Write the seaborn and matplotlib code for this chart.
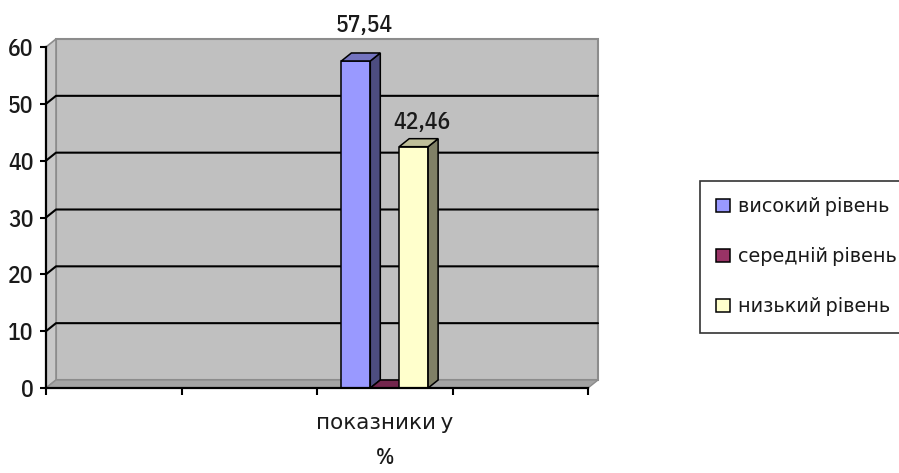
import matplotlib
matplotlib.use("Agg")
import matplotlib.pyplot as plt
import matplotlib.colors as mcolors
from matplotlib.patches import Polygon, Patch, Rectangle
from matplotlib.lines import Line2D
from matplotlib.transforms import IdentityTransform
import pandas as pd
import seaborn as sns

# --- data -------------------------------------------------------------
category = ["показники у\n%"]
levels = ["високий рівень", "середній рівень", "низький рівень"]
values = [57.54, 0.0, 42.46]
colors = ["#9999FF", "#993366", "#FFFFCC"]
y_ticks = [0, 10, 20, 30, 40, 50, 60]

df = pd.DataFrame({
    "category": category * len(levels),
    "level": levels,
    "value": values,
})

sns.set_theme(style="white")
plt.rcParams["font.family"] = ["IBM Plex Sans Condensed", "DejaVu Sans"]
plt.rcParams["font.weight"] = 500
TXT = "#1a1a1a"
FS = 17

W, H = 899, 473
fig = plt.figure(figsize=(W / 100, H / 100), dpi=100)
fig.patch.set_facecolor("white")
ax = fig.add_axes([46 / W, 1 - 388 / H, 542 / W, 341 / H])
ax.patch.set_alpha(0)

sns.barplot(data=df, x="category", y="value", hue="level", hue_order=levels,
            palette=colors, saturation=1, width=0.64, edgecolor="black",
            linewidth=1.1, legend=False, ax=ax)
bars = sorted([p for p in ax.patches if isinstance(p, Rectangle)],
              key=lambda p: p.get_x())

# one category sits in the third of four slots
ax.set_xlim(-2.5, 1.5)
ax.set_ylim(y_ticks[0], y_ticks[-1])
ax.set_xlabel("")
ax.set_ylabel("")

# depth of the 3-D effect in pixels
DX, DY = 10, 8
T = ax.transData.transform
ident = IdentityTransform()


def shade(c, f):
    r, g, b = mcolors.to_rgb(c)
    return (r * f, g * f, b * f)


def poly(pts, fc, ec, lw, z):
    p = Polygon(pts, closed=True, transform=ident, facecolor=fc,
                edgecolor=ec, linewidth=lw, zorder=z, clip_on=False)
    ax.add_artist(p)
    return p


# --- walls and floor ---------------------------------------------------
xa, xb = ax.get_xlim()
ya, yb = ax.get_ylim()
L = T((xa, ya)); R = T((xb, ya)); TL = T((xa, yb))
poly([(L[0] + DX, L[1] + DY), (R[0] + DX, R[1] + DY),
      (R[0] + DX, TL[1] + DY), (L[0] + DX, TL[1] + DY)],
     "#C0C0C0", "#8c8c8c", 1.5, 0.5)
poly([L, TL, (TL[0] + DX, TL[1] + DY), (L[0] + DX, L[1] + DY)],
     "#C8C8C8", "#8c8c8c", 1.2, 0.6)
poly([L, R, (R[0] + DX, R[1] + DY), (L[0] + DX, L[1] + DY)],
     "#A3A3A3", "#8c8c8c", 1.0, 0.6)

# gridlines on the back wall with their diagonal connectors
for v in y_ticks[1:-1]:
    Y = T((xa, v))[1]
    ln = Line2D([L[0], L[0] + DX, R[0] + DX], [Y, Y + DY, Y + DY],
                transform=ident, color="black", linewidth=1.5, zorder=0.8,
                clip_on=False)
    ax.add_artist(ln)

# --- 3-D bars ------------------------------------------------------------
for i, (p, c) in enumerate(zip(bars, colors)):
    z = 3 + i
    p.set_zorder(z)
    x0 = p.get_x(); x1 = x0 + p.get_width(); h = p.get_height()
    X0, Y0 = T((x0, 0)); X1, Y1 = T((x1, h))
    poly([(X1, Y0), (X1, Y1), (X1 + DX, Y1 + DY), (X1 + DX, Y0 + DY)],
         shade(c, 0.5), "black", 1.1, z + 0.1)
    poly([(X0, Y1), (X1, Y1), (X1 + DX, Y1 + DY), (X0 + DX, Y1 + DY)],
         shade(c, 0.75), "black", 1.1, z + 0.2)
    if h > 0:
        ax.annotate(f"{h:.2f}".replace(".", ","), xy=((x0 + x1) / 2, h),
                    xytext=(6, 9 if h < 50 else 17), textcoords="offset points",
                    ha="center", va="bottom", fontsize=FS, color=TXT,
                    annotation_clip=False, zorder=10)

# --- axes ------------------------------------------------------------------
for s in ("top", "right"):
    ax.spines[s].set_visible(False)
for s in ("left", "bottom"):
    ax.spines[s].set_color("black")
    ax.spines[s].set_linewidth(1.6)
    ax.spines[s].set_zorder(9)

ax.set_yticks(y_ticks)
ax.set_yticklabels([str(v) for v in y_ticks])
ax.tick_params(axis="y", direction="out", length=4, width=1.5, color="black",
               pad=5, labelsize=FS, labelcolor=TXT, left=True)
ax.set_xticks([0])
ax.set_xticklabels(category, linespacing=1.8)
ax.set_xticks([xa + k for k in range(int(xb - xa) + 1)], minor=True)
ax.tick_params(axis="x", which="major", length=0, pad=17, labelsize=15.5,
               labelcolor=TXT)
ax.tick_params(axis="x", which="minor", direction="out", length=5, width=1.5,
               color="black", bottom=True)
ax.grid(False)

# --- legend ----------------------------------------------------------------
LFS = 13.9
handles = [Patch(facecolor=c, edgecolor="black", linewidth=1.1) for c in colors]
leg = fig.legend(handles, levels, loc="upper left",
                 bbox_to_anchor=(700 / W, 1 - 181 / H), fontsize=LFS,
                 frameon=True, fancybox=False, handlelength=0.7,
                 handleheight=0.7, handletextpad=0.42, labelspacing=1.6,
                 borderpad=0.85, borderaxespad=0)
leg.get_frame().set_edgecolor("black")
leg.get_frame().set_linewidth(1.2)
for t in leg.get_texts():
    t.set_color(TXT)

fig.savefig("out.png", dpi=100)
